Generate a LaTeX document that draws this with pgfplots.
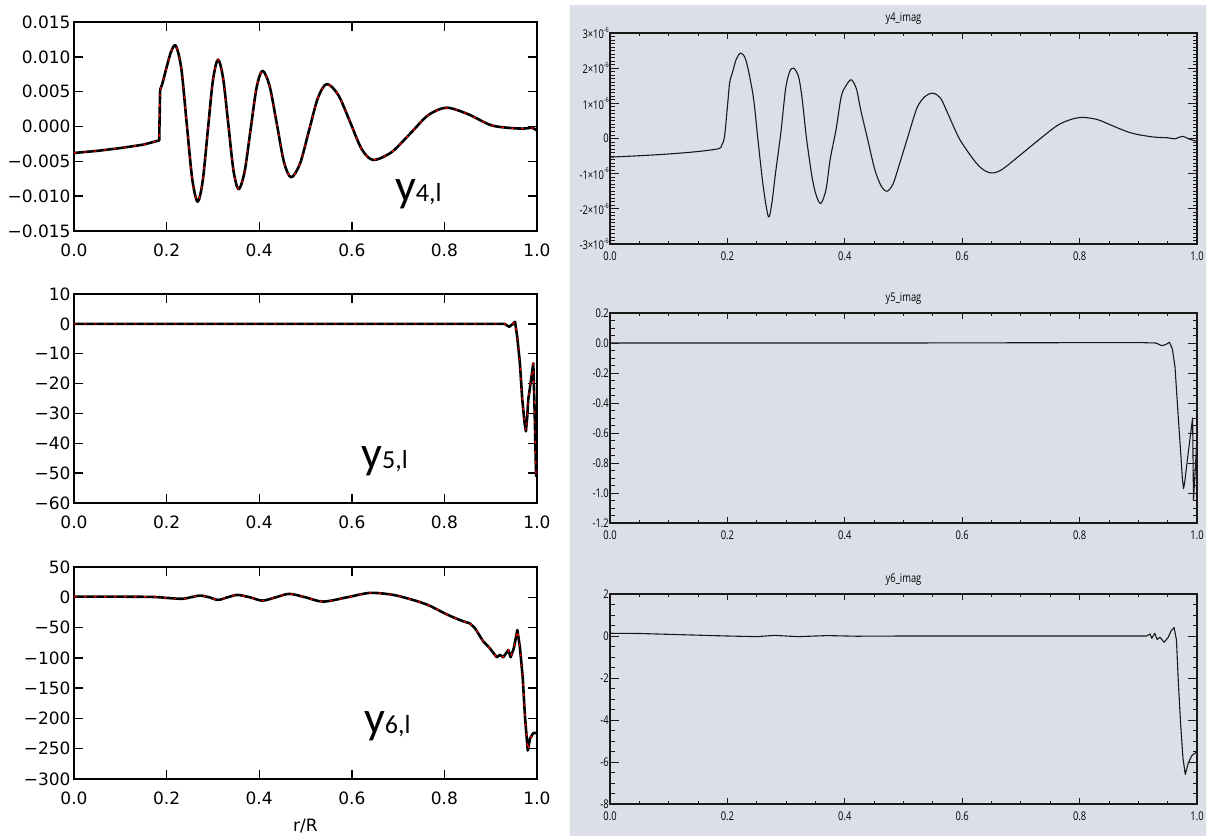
\documentclass[border=0pt]{standalone}
\usepackage{pgfplots}
\usepackage{pgfplotstable}
\pgfplotsset{compat=1.18}
\usepackage{fontspec}
\setmainfont{DejaVu Sans}
\newfontfamily\idlfont[FakeStretch=0.78]{Open Sans}
\newfontfamily\labfont{Carlito}
\definecolor{idlbg}{RGB}{220,223,232}
\definecolor{idlink}{RGB}{25,25,25}
\newcommand\mpl{\fontsize{17}{20}\selectfont}
\newcommand\idl{\idlfont\fontsize{12}{14}\selectfont}
\newcommand\ex[1]{\raisebox{0.55em}{\fontsize{7}{8}\selectfont#1}}
\newcommand\ylab[1]{{\labfont\fontsize{46}{46}\selectfont y}{\labfont\fontsize{26}{26}\selectfont #1,l}}

% ---------- y4: left (matplotlib) ----------
\pgfplotstableread{
x y
0.000 -0.0038
0.050 -0.0035
0.100 -0.0031
0.150 -0.0026
0.184 -0.0020
0.186 0.0053
}\yfourA
\pgfplotstableread{
x y
0.186 0.0053
0.191 0.0062
0.200 0.0085
0.210 0.0108
0.220 0.0116
0.2318 0.0083
0.2435 0.0004
0.2553 -0.0075
0.2670 -0.0108
0.2780 -0.0078
0.2890 -0.0006
0.3000 0.0066
0.3110 0.0096
0.3221 0.0069
0.3333 0.0003
0.3444 -0.0063
0.3555 -0.0090
0.3684 -0.0065
0.3813 -0.0005
0.3941 0.0055
0.4070 0.0080
0.4225 0.0058
0.4380 0.0004
0.4535 -0.0051
0.4690 -0.0073
0.4883 -0.0053
0.5075 -0.0006
0.5268 0.0041
0.5460 0.0061
0.5710 0.0045
0.5960 0.0007
0.6210 -0.0032
0.6460 -0.0048
0.6855 -0.0037
0.7250 -0.0011
0.7645 0.0016
0.8040 0.0027
0.8500 0.0018
0.9000 0.0002
0.9400 -0.0002
0.9700 -0.0003
0.9900 -0.0002
1.0000 -0.0006
}\yfourB

% ---------- y5: left ----------
\pgfplotstableread{
x y
0.000 0
0.500 0
0.930 0
0.936 -0.6
0.940 -0.95
0.946 -0.3
0.9525 0.7
0.957 -4
0.963 -13
0.968 -25
0.973 -33
0.976 -36
0.979 -31
0.981 -25.5
0.986 -20
0.992 -13.2
0.995 -30
0.998 -51
1.000 -51
}\yfive

% ---------- y6: left ----------
\pgfplotstableread{
x y
0.000 1
0.050 1
0.100 1
0.150 0.8
0.180 0.3
0.200 -1
0.234 -2.5
0.252 0
0.272 2.8
0.292 0
0.311 -4.3
0.332 0
0.353 3.9
0.380 0
0.407 -5.5
0.436 0
0.465 5.6
0.500 0
0.538 -7.1
0.590 0
0.639 7.2
0.689 4
0.737 -5.5
0.768 -13.9
0.804 -27.8
0.835 -38
0.855 -43
}\ysixA
\pgfplotstableread{
x y
0.855 -43
0.866 -51
0.884 -73
0.898 -84
0.913 -99
0.920 -95
0.927 -99
0.938 -87
0.943 -99
0.950 -84
0.9575 -54
0.963 -82
0.969 -131
0.974 -197
0.980 -253
0.985 -233
0.992 -224
1.000 -224
}\ysixB

% ---------- imaginary parts (right) ----------
% y4_imag in units of 1e-6
\pgfplotstableread{
x y
0.000 -0.53
0.050 -0.49
0.100 -0.44
0.150 -0.37
0.185 -0.29
0.190 -0.20
0.195 0.05
0.200 0.90
0.204 1.60
0.209 1.90
0.215 2.25
0.223 2.43
0.232 2.20
0.244 1.20
0.252 -0.03
0.261 -1.36
0.270 -2.23
0.276 -1.80
0.282 -0.98
0.291 0.16
0.299 1.39
0.306 1.90
0.313 2.00
0.321 1.77
0.326 1.30
0.330 0.73
0.335 -0.03
0.344 -1.08
0.351 -1.60
0.359 -1.85
0.368 -1.45
0.375 -0.60
0.385 0.25
0.394 1.20
0.402 1.50
0.411 1.67
0.420 1.40
0.427 0.82
0.439 -0.03
0.451 -0.88
0.462 -1.35
0.472 -1.50
0.482 -1.30
0.492 -0.79
0.506 -0.03
0.523 0.87
0.537 1.20
0.550 1.29
0.563 1.15
0.575 0.73
0.596 -0.03
0.624 -0.70
0.640 -0.93
0.653 -0.98
0.668 -0.88
0.693 -0.55
0.734 0.01
0.762 0.37
0.785 0.54
0.805 0.60
0.830 0.54
0.852 0.39
0.880 0.20
0.900 0.11
0.927 0.04
0.950 0.02
0.962 -0.01
0.970 0.04
0.976 0.06
0.982 0.02
0.986 -0.01
0.993 -0.05
1.000 -0.08
}\yfourI

\pgfplotstableread{
x y
0.000 0.000
0.500 0.000
0.900 0.003
0.930 0.000
0.940 -0.018
0.947 -0.010
0.953 0.005
0.958 -0.040
0.9625 -0.160
0.968 -0.490
0.973 -0.780
0.975 -0.900
0.977 -0.970
0.979 -0.930
0.9835 -0.780
0.9925 -0.500
0.994 -1.050
1.000 -0.630
}\yfiveI

\pgfplotstableread{
x y
0.000 0.13
0.050 0.12
0.100 0.08
0.150 0.04
0.200 0.00
0.250 -0.03
0.280 0.03
0.320 -0.03
0.370 0.02
0.420 -0.01
0.500 0.00
0.600 0.00
0.900 0.00
0.914 0.00
0.920 0.095
0.923 -0.11
0.928 0.13
0.932 -0.16
0.937 -0.06
0.944 -0.30
0.951 -0.06
0.956 0.25
0.961 0.40
0.965 -0.19
0.968 -2.10
0.972 -4.16
0.976 -5.80
0.980 -6.59
0.985 -6.06
0.991 -5.70
1.000 -5.50
}\ysixI

\pgfplotsset{
  mpl/.style={
    scale only axis, width=463pt, xmin=0, xmax=1,
    scaled y ticks=false, scaled x ticks=false,
    axis line style={line width=1.8pt},
    every tick/.style={black, line width=1.4pt},
    major tick length=9pt, tick align=inside,
    xtick pos=both, ytick pos=both,
    xtick={0,0.2,0.4,0.6,0.8,1},
    xticklabels={0.0,0.2,0.4,0.6,0.8,1.0},
    ticklabel style={font=\mpl},
    xticklabel style={yshift=-9pt},
  },
  blk/.style={black, line width=2.6pt, line join=round, line cap=round},
  reddot/.style={red, line width=1.2pt, dash pattern=on 2.5pt off 7.5pt},
  idlmain/.style={
    scale only axis, width=587pt, xmin=0, xmax=1,
    scaled y ticks=false,
    axis line style={line width=1.2pt, idlink},
    tick align=inside, xtick pos=both, ytick pos=both,
    major tick length=9pt, minor tick length=4.5pt,
    every tick/.style={idlink, line width=0.9pt},
    every minor tick/.style={idlink, line width=0.9pt},
    xtick=\empty,
    yticklabel style={font=\idl, inner sep=1pt},
    title style={font=\idl, yshift=-1pt},
  },
  idlx/.style={
    scale only axis, width=587pt, xmin=0, xmax=1, ymin=0, ymax=1,
    hide y axis,
    axis line style={line width=1.2pt, idlink},
    tick align=inside, xtick pos=both,
    major tick length=6pt, minor tick length=3pt,
    xtick={0,0.2,0.4,0.6,0.8,1}, minor x tick num=3,
    xticklabels={0.0,0.2,0.4,0.6,0.8,1.0},
    xticklabel style={font=\idl, yshift=-4pt},
    every tick/.style={idlink, line width=0.9pt},
    every minor tick/.style={idlink, line width=0.9pt},
  },
  idlcurve/.style={idlink, line width=1.1pt, line join=round},
}

\begin{document}
\begin{tikzpicture}[x=1pt, y=1pt]
\path[use as bounding box] (0,0) rectangle (1206,836);
\fill[idlbg] (570,0) rectangle (1206,831);

% ===== left column =====
\begin{axis}[mpl, at={(74pt,605pt)}, anchor=south west, height=209pt,
  ymin=-0.015, ymax=0.015,
  ytick={-0.015,-0.01,-0.005,0,0.005,0.01,0.015},
  yticklabels={−0.015,−0.010,−0.005,0.000,0.005,0.010,0.015}]
  \addplot[blk] table {\yfourA};
  \addplot[blk, smooth, tension=0.5] table {\yfourB};
  \addplot[reddot] table {\yfourA};
  \addplot[reddot, smooth, tension=0.5] table {\yfourB};
  \node[anchor=base west, inner sep=0pt] at (rel axis cs:0.693,0.14) {\ylab{4}};
\end{axis}

\begin{axis}[mpl, at={(74pt,333pt)}, anchor=south west, height=209pt,
  ymin=-60, ymax=10,
  ytick={-60,-50,-40,-30,-20,-10,0,10},
  yticklabels={−60,−50,−40,−30,−20,−10,0,10}]
  \addplot[blk] table {\yfive};
  \addplot[reddot] table {\yfive};
  \node[anchor=base west, inner sep=0pt] at (rel axis cs:0.62,0.166) {\ylab{5}};
\end{axis}

\begin{axis}[mpl, at={(74pt,57pt)}, anchor=south west, height=212pt,
  ymin=-300, ymax=50,
  ytick={-300,-250,-200,-150,-100,-50,0,50},
  yticklabels={−300,−250,−200,−150,−100,−50,0,50},
  xlabel={r/R}, xlabel style={font=\mpl, yshift=-8pt}]
  \addplot[blk, smooth, tension=0.5] table {\ysixA};
  \addplot[blk] table {\ysixB};
  \addplot[reddot, smooth, tension=0.5] table {\ysixA};
  \addplot[reddot] table {\ysixB};
  \node[anchor=base west, inner sep=0pt] at (rel axis cs:0.626,0.214) {\ylab{6}};
\end{axis}

% ===== right column =====
\begin{axis}[idlmain, at={(610pt,592pt)}, anchor=south west, height=211pt,
  title={y4\_imag},
  ymin=-3, ymax=3, ytick={-3,-2,-1,0,1,2,3}, minor y tick num=9,
  yticklabels={-3×10\ex{-6},-2×10\ex{-6},-1×10\ex{-6},0,1×10\ex{-6},2×10\ex{-6},3×10\ex{-6}}]
  \addplot[idlcurve, smooth, tension=0.5] table {\yfourI};
\end{axis}
\begin{axis}[idlx, at={(610pt,592pt)}, anchor=south west, height=211pt]
\end{axis}

\begin{axis}[idlmain, at={(610pt,313pt)}, anchor=south west, height=210pt,
  title={y5\_imag},
  ymin=-1.2, ymax=0.2, ytick={-1.2,-1,-0.8,-0.6,-0.4,-0.2,0,0.2}, minor y tick num=3,
  yticklabels={-1.2,-1.0,-0.8,-0.6,-0.4,-0.2,0.0,0.2}]
  \addplot[idlcurve] table {\yfiveI};
\end{axis}
\begin{axis}[idlx, at={(610pt,313pt)}, anchor=south west, height=210pt]
\end{axis}

\begin{axis}[idlmain, at={(610pt,32pt)}, anchor=south west, height=210pt,
  title={y6\_imag},
  ymin=-8, ymax=2, ytick={-8,-6,-4,-2,0,2}, minor y tick num=3,
  yticklabels={-8,-6,-4,-2,0,2}]
  \addplot[idlcurve] table {\ysixI};
\end{axis}
\begin{axis}[idlx, at={(610pt,32pt)}, anchor=south west, height=210pt]
\end{axis}
\end{tikzpicture}
\end{document}
